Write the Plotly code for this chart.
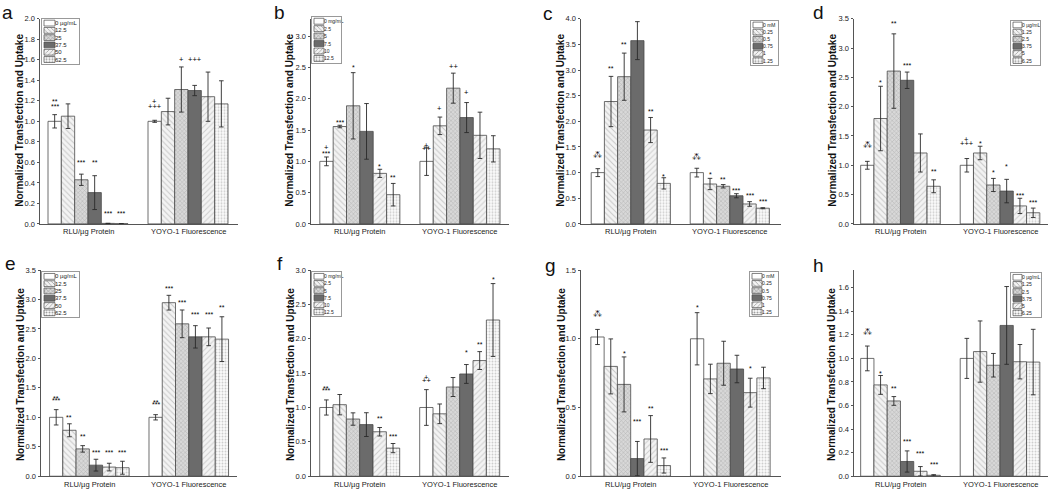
import plotly.graph_objects as go

# ---------------- data ----------------
groups = ["RLU/µg Protein", "YOYO-1 Fluorescence"]

labels_a = ["0 µg/mL", "12.5", "25", "37.5", "50", "62.5"]
labels_b = ["0 mg/mL", "2.5", "5", "7.5", "10", "12.5"]
labels_c = ["0 mM", "0.25", "0.5", "0.75", "1", "1.25"]
labels_d = ["0 µg/mL", "1.25", "2.5", "3.75", "5", "6.25"]

rlu_a = [1.00, 1.05, 0.43, 0.305, 0.005, 0.002]
rlu_a_err = [0.065, 0.12, 0.055, 0.165, 0.0, 0.0]
yoyo_a = [1.00, 1.095, 1.31, 1.30, 1.24, 1.17]
yoyo_a_err = [0.01, 0.13, 0.22, 0.05, 0.24, 0.225]
sig_a = [(0, 0, "**", 1.21), (0, 0, "***", 1.165), (0, 2, "***", 0.615), (0, 3, "**", 0.615),
         (0, 4, "***", 0.117), (0, 5, "***", 0.117), (1, 0, "+", 1.197), (1, 0, "+++", 1.143),
         (1, 2, "+", 1.6), (1, 3, "+++", 1.6)]

rlu_b = [1.00, 1.557, 1.888, 1.479, 0.808, 0.467]
rlu_b_err = [0.07, 0.02, 0.53, 0.445, 0.065, 0.18]
yoyo_b = [1.00, 1.568, 2.17, 1.70, 1.416, 1.20]
yoyo_b_err = [0.225, 0.14, 0.24, 0.24, 0.37, 0.21]
sig_b = [(0, 0, "+", 1.217), (0, 0, "***", 1.154), (0, 1, "***", 1.66), (0, 2, "*", 2.53),
         (0, 4, "*", 0.955), (0, 5, "**", 0.77), (1, 0, "+", 1.26), (1, 0, "++", 1.2),
         (1, 1, "+", 1.846), (1, 2, "++", 2.51), (1, 3, "+", 2.108)]

rlu_c = [1.00, 2.386, 2.87, 3.573, 1.83, 0.79]
rlu_c_err = [0.077, 0.49, 0.46, 0.37, 0.245, 0.11]
yoyo_c = [1.00, 0.778, 0.734, 0.549, 0.389, 0.306]
yoyo_c_err = [0.085, 0.11, 0.033, 0.04, 0.045, 0.01]
sig_c = [(0, 0, "⁂", 1.34), (0, 1, "**", 3.075), (0, 2, "**", 3.54), (0, 3, "***", 4.03),
         (0, 4, "**", 2.233), (0, 5, "*", 0.957), (1, 0, "⁂", 1.3), (1, 1, "*", 0.995),
         (1, 2, "**", 0.906), (1, 3, "***", 0.70), (1, 4, "***", 0.587), (1, 5, "***", 0.478)]

rlu_d = [1.00, 1.798, 2.607, 2.45, 1.21, 0.642]
rlu_d_err = [0.067, 0.55, 0.635, 0.14, 0.325, 0.11]
yoyo_d = [1.00, 1.21, 0.664, 0.56, 0.307, 0.19]
yoyo_d_err = [0.115, 0.115, 0.112, 0.2, 0.13, 0.08]
sig_d = [(0, 0, "⁂", 1.35), (0, 1, "*", 2.44), (0, 2, "**", 3.445), (0, 3, "***", 2.73),
         (0, 5, "**", 0.93), (1, 0, "+", 1.44), (1, 0, "+++", 1.38), (1, 1, "*", 1.407),
         (1, 2, "*", 0.916), (1, 3, "*", 1.016), (1, 4, "***", 0.525), (1, 5, "***", 0.402)]

rlu_e = [1.00, 0.78, 0.464, 0.188, 0.155, 0.144]
rlu_e_err = [0.13, 0.11, 0.055, 0.1, 0.065, 0.11]
yoyo_e = [1.00, 2.946, 2.587, 2.366, 2.366, 2.327]
yoyo_e_err = [0.045, 0.125, 0.235, 0.19, 0.15, 0.38]
sig_e = [(0, 0, "**", 1.36), (0, 0, "***", 1.32), (0, 1, "**", 1.03), (0, 2, "**", 0.713),
         (0, 3, "***", 0.431), (0, 4, "***", 0.431), (0, 5, "***", 0.431), (1, 0, "**", 1.288),
         (1, 0, "***", 1.244), (1, 1, "***", 3.217), (1, 2, "***", 2.98), (1, 3, "***", 2.78),
         (1, 4, "***", 2.78), (1, 5, "**", 2.89)]

rlu_f = [1.00, 1.041, 0.832, 0.751, 0.647, 0.409]
rlu_f_err = [0.11, 0.148, 0.09, 0.173, 0.062, 0.067]
yoyo_f = [1.00, 0.908, 1.298, 1.488, 1.683, 2.273]
yoyo_f_err = [0.26, 0.143, 0.138, 0.137, 0.13, 0.53]
sig_f = [(0, 0, "**", 1.31), (0, 0, "***", 1.27), (0, 4, "**", 0.875), (0, 5, "***", 0.613),
         (1, 0, "+", 1.43), (1, 0, "++", 1.39), (1, 3, "*", 1.835), (1, 4, "**", 1.94),
         (1, 5, "*", 2.89)]

rlu_g = [1.013, 0.799, 0.668, 0.128, 0.271, 0.078]
rlu_g_err = [0.055, 0.2, 0.2, 0.125, 0.17, 0.055]
yoyo_g = [1.00, 0.708, 0.822, 0.78, 0.608, 0.715]
yoyo_g_err = [0.19, 0.107, 0.16, 0.1, 0.105, 0.078]
sig_g = [(0, 0, "⁂", 1.18), (0, 2, "*", 0.905), (0, 3, "***", 0.413), (0, 4, "**", 0.506),
         (0, 5, "***", 0.204), (1, 0, "*", 1.243), (1, 4, "*", 0.8)]

rlu_h = [1.00, 0.775, 0.639, 0.125, 0.042, 0.008]
rlu_h_err = [0.105, 0.08, 0.037, 0.09, 0.04, 0.005]
yoyo_h = [1.00, 1.058, 0.942, 1.28, 0.972, 0.969]
yoyo_h_err = [0.17, 0.26, 0.1, 0.33, 0.146, 0.278]
sig_h = [(0, 0, "⁂", 1.225), (0, 1, "*", 0.889), (0, 2, "**", 0.761), (0, 3, "***", 0.308),
         (0, 4, "***", 0.211), (0, 5, "***", 0.119)]

panel_letters = ["a", "b", "c", "d", "e", "f", "g", "h"]
y_title = "Normalized Transfection and Uptake"

# ---------------- styles / layout ----------------
W, H = 1050, 493
FONT = "Liberation Sans, Arial, sans-serif"
fills = ["#ffffff", "#f3f3f3", "#d8d8d8", "#6b6b6b", "#f3f3f3", "#fbfbfb"]
shapes = ["", "\\", "x", "", "/", "."]
fgs = ["#ffffff", "#9a9a9a", "#8a8a8a", "#6b6b6b", "#a5a5a5", "#a0a0a0"]
psizes = [4, 4, 3, 4, 4, 3]
solid = [0.2, 0.25, 0.3, 0.2, 0.25, 0.35]
OUT = "#4a4a4a"
BARGAP = 0.2

panels = [
    (rlu_a, rlu_a_err, yoyo_a, yoyo_a_err, sig_a, labels_a),
    (rlu_b, rlu_b_err, yoyo_b, yoyo_b_err, sig_b, labels_b),
    (rlu_c, rlu_c_err, yoyo_c, yoyo_c_err, sig_c, labels_c),
    (rlu_d, rlu_d_err, yoyo_d, yoyo_d_err, sig_d, labels_d),
    (rlu_e, rlu_e_err, yoyo_e, yoyo_e_err, sig_e, labels_a),
    (rlu_f, rlu_f_err, yoyo_f, yoyo_f_err, sig_f, labels_b),
    (rlu_g, rlu_g_err, yoyo_g, yoyo_g_err, sig_g, labels_c),
    (rlu_h, rlu_h_err, yoyo_h, yoyo_h_err, sig_h, labels_d),
]

# pixel geometry of each panel
ax_left = [40, 311, 581, 854, 41, 311, 581, 854]
ax_right = [238, 509, 781, 1048, 237, 509, 781, 1048]
ax_top = [15, 15, 15, 15, 271, 271, 271, 271]
ax_bot = [224, 224, 224, 224, 481, 481, 481, 481]
x_ranges = [[-0.48, 1.50], [-0.488, 1.49], [-0.503, 1.517], [-0.467, 1.482],
            [-0.486, 1.485], [-0.487, 1.493], [-0.499, 1.509], [-0.467, 1.482]]
y_ranges = [[0, 2.0], [0, 3.28], [0, 4.0], [0, 3.5], [0, 3.5], [0, 3.0], [0, 1.5], [0, 1.75]]
y_dticks = [0.2, 0.5, 0.5, 0.5, 0.5, 0.5, 0.5, 0.2]
title_x = [20, 290, 561, 833, 20, 290, 561, 831]
title_y = [119, 119, 119, 119, 378, 378, 378, 378]
letter_pos = [(0, 9), (272, 9), (541, 10), (811, 9), (3, 264), (275, 264), (543, 266), (811, 266)]
legend_box = [(42, 79, 15, 61), (312, 341, 13, 60), (751, 778, 17, 62), (1011, 1040, 17, 62),
              (42, 79, 273, 319), (312, 341, 273, 318), (750, 778, 273, 318), (1011, 1041, 274, 319)]
legend_font = [6, 5, 5, 5, 6, 5, 5, 5]
legend_swatch = [11, 10, 10, 9, 11, 10, 10, 9]


def fx(p):
    return p / W


def fy(p):
    return 1 - p / H


def axname(kind, n):
    return kind if n == 1 else f"{kind}{n}"


def axref(kind, n):
    return kind if n == 1 else f"{kind}{n}"


fig = go.Figure()
layout = {}
annotations = []

for k, (rlu, rlu_err, yoyo, yoyo_err, sig, labels) in enumerate(panels):
    n = k + 1
    xr, yr = axref("x", n), axref("y", n)
    for i in range(6):
        fig.add_trace(go.Bar(
            x=groups, y=[rlu[i], yoyo[i]],
            error_y=dict(type="data", array=[rlu_err[i], yoyo_err[i]], color="#2a2a2a",
                         thickness=0.9, width=2.3),
            marker=dict(color=fills[i], line=dict(color=OUT, width=0.8),
                        pattern=dict(shape=shapes[i], fgcolor=fgs[i], bgcolor=fills[i],
                                     size=psizes[i], solidity=solid[i])),
            offsetgroup=str(i), name=labels[i], showlegend=False,
            xaxis=xr, yaxis=yr, hoverinfo="skip"))
    layout[axname("xaxis", n)] = dict(
        domain=[fx(ax_left[k]), fx(ax_right[k])], anchor=yr, type="category",
        range=x_ranges[k], showline=True, linecolor="#555", linewidth=1, ticks="",
        showticklabels=False, showgrid=False, zeroline=False, fixedrange=True)
    layout[axname("yaxis", n)] = dict(
        domain=[fy(ax_bot[k]), fy(ax_top[k])], anchor=xr, range=y_ranges[k],
        dtick=y_dticks[k], tick0=0, tickformat=".1f", showline=True, linecolor="#555",
        linewidth=1, ticks="outside", ticklen=2.5, tickcolor="#555", tickwidth=0.8,
        showgrid=False, zeroline=False, tickfont=dict(size=7.5, color="#222"), fixedrange=True)

    # category labels under the axis
    for g, gname in enumerate(groups):
        annotations.append(dict(
            x=g, y=fy(ax_bot[k] + 8), xref=xr, yref="paper", text=gname, showarrow=False,
            xanchor="center", yanchor="middle", font=dict(size=7.5, color="#222", family=FONT)))

    # significance marks
    bw = (1 - BARGAP) / 6
    for g, i, txt, yv in sig:
        xpos = g - (1 - BARGAP) / 2 + bw * (i + 0.5)
        is_star = txt.startswith("*")
        is_tri = txt == "⁂"
        annotations.append(dict(
            x=xpos, y=yv, xref=xr, yref=yr, text=txt, showarrow=False,
            xanchor="center", yanchor="middle",
            yshift=-2 if is_star else 0,
            font=dict(size=9 if is_tri else (7 if is_star else 7.5), color="#000",
                      family="DejaVu Sans" if is_tri else FONT)))

    # y-axis title
    annotations.append(dict(
        x=fx(title_x[k]), y=fy(title_y[k]), xref="paper", yref="paper", text=y_title,
        textangle=-90, showarrow=False, xanchor="center", yanchor="middle",
        font=dict(size=10, color="#111", family=FONT, weight="bold")))
    # panel letter
    lx, ly = letter_pos[k]
    annotations.append(dict(
        x=fx(lx), y=fy(ly), xref="paper", yref="paper", text=panel_letters[k],
        showarrow=False, xanchor="left", yanchor="middle",
        font=dict(size=19, color="#111", family=FONT)))

    # legend (inset axis with pattern swatches)
    m = n + 8
    lxr, lyr = axref("x", m), axref("y", m)
    x0, x1, y0, y1 = legend_box[k]
    wpx = x1 - x0
    sw = legend_swatch[k]
    fig.add_trace(go.Bar(
        orientation="h", y=labels, x=[1 for _ in labels], text=labels,
        textposition="outside", cliponaxis=False, constraintext="none",
        textfont=dict(size=legend_font[k], color="#222", family=FONT),
        marker=dict(color=fills, line=dict(color=OUT, width=0.7),
                    pattern=dict(shape=shapes, fgcolor=fgs, bgcolor=fills,
                                 size=[3] * 6, solidity=solid)),
        showlegend=False, xaxis=lxr, yaxis=lyr, hoverinfo="skip"))
    layout[axname("xaxis", m)] = dict(
        domain=[fx(x0), fx(x1)], anchor=lyr, range=[-2 / sw, (wpx - 2) / sw],
        showline=True, mirror=True, linecolor="#999", linewidth=0.8, ticks="",
        showticklabels=False, showgrid=False, zeroline=False, fixedrange=True)
    layout[axname("yaxis", m)] = dict(
        domain=[fy(y1), fy(y0)], anchor=lxr, type="category", range=[5.6, -0.6],
        showline=True, mirror=True, linecolor="#999", linewidth=0.8, ticks="",
        showticklabels=False, showgrid=False, zeroline=False, fixedrange=True)

fig.update_layout(
    width=W, height=H, margin=dict(l=0, r=0, t=0, b=0),
    paper_bgcolor="white", plot_bgcolor="white",
    barmode="group", bargap=BARGAP, bargroupgap=0,
    font=dict(family=FONT, color="#222"),
    annotations=annotations, showlegend=False, **layout)

fig.write_html(
    "out.html",
    config={"displayModeBar": False},
    post_script="document.documentElement.style.margin='0';document.body.style.margin='0';"
                "document.body.style.overflow='hidden';")
